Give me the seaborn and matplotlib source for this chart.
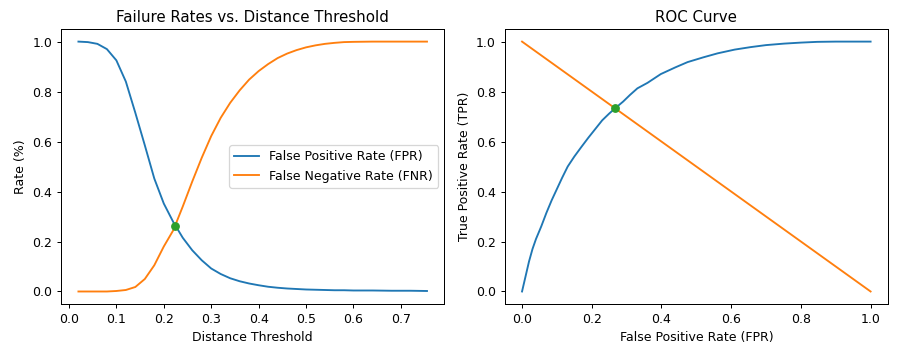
import numpy as np
import pandas as pd
import seaborn as sns
import matplotlib
matplotlib.use('Agg')
import matplotlib.pyplot as plt

# distance thresholds and the two failure rates
thresholds = [0.02, 0.04, 0.06, 0.08, 0.10, 0.12, 0.14, 0.16, 0.18, 0.20, 0.22,
              0.24, 0.26, 0.28, 0.30, 0.32, 0.34, 0.36, 0.38, 0.40, 0.42, 0.44,
              0.46, 0.48, 0.50, 0.52, 0.54, 0.56, 0.58, 0.60, 0.64, 0.68, 0.72,
              0.755]
fpr = [1.000, 0.998, 0.991, 0.970, 0.925, 0.840, 0.715, 0.585, 0.452, 0.352, 0.278,
       0.215, 0.165, 0.125, 0.092, 0.070, 0.053, 0.041, 0.032, 0.025, 0.019, 0.015,
       0.012, 0.010, 0.008, 0.007, 0.006, 0.005, 0.005, 0.004, 0.004, 0.003, 0.003,
       0.002]
fnr = [0.000, 0.000, 0.000, 0.000, 0.002, 0.006, 0.018, 0.050, 0.105, 0.180, 0.245,
       0.340, 0.440, 0.535, 0.622, 0.695, 0.755, 0.805, 0.848, 0.882, 0.910, 0.934,
       0.952, 0.966, 0.977, 0.985, 0.991, 0.995, 0.998, 0.999, 1.000, 1.000, 1.000,
       1.000]
eer_threshold = 0.224
eer_rate = 0.263

# ROC curve
roc_fpr = [0.0, 0.01, 0.02, 0.03, 0.04, 0.055, 0.07, 0.085, 0.10, 0.115, 0.131,
           0.15, 0.17, 0.19, 0.21, 0.23, 0.25, 0.267, 0.29, 0.31, 0.331, 0.36,
           0.398, 0.44, 0.475, 0.52, 0.561, 0.61, 0.656, 0.70, 0.752, 0.80,
           0.847, 0.90, 1.0]
roc_tpr = [0.0, 0.06, 0.12, 0.17, 0.21, 0.26, 0.315, 0.365, 0.41, 0.455, 0.50,
           0.54, 0.578, 0.615, 0.65, 0.685, 0.712, 0.733, 0.76, 0.787, 0.813, 0.835,
           0.87, 0.897, 0.918, 0.937, 0.953, 0.968, 0.978, 0.986, 0.992, 0.996,
           0.999, 1.0, 1.0]
diag_x = [0.0, 1.0]
diag_y = [1.0, 0.0]
eer_point = (0.267, 0.733)

rates = pd.DataFrame({'threshold': thresholds, 'fpr': fpr, 'fnr': fnr})
roc = pd.DataFrame({'fpr': roc_fpr, 'tpr': roc_tpr})

fig, (ax1, ax2) = plt.subplots(1, 2, figsize=(901/90, 355/90), dpi=90)
plt.subplots_adjust(left=0.0677, right=0.9856, top=0.918, bottom=0.1437, wspace=0.157)

sns.lineplot(data=rates, x='threshold', y='fpr', ax=ax1, color='C0',
             label='False Positive Rate (FPR)')
sns.lineplot(data=rates, x='threshold', y='fnr', ax=ax1, color='C1',
             label='False Negative Rate (FNR)')
ax1.plot([eer_threshold], [eer_rate], 'o', color='C2', markersize=6)
ax1.set_title('Failure Rates vs. Distance Threshold')
ax1.set_xlabel('Distance Threshold')
ax1.set_ylabel('Rate (%)')
ax1.legend(loc='center right')

sns.lineplot(data=roc, x='fpr', y='tpr', ax=ax2, color='C0')
sns.lineplot(x=diag_x, y=diag_y, ax=ax2, color='C1')
ax2.plot([eer_point[0]], [eer_point[1]], 'o', color='C2', markersize=6)
ax2.set_title('ROC Curve')
ax2.set_xlabel('False Positive Rate (FPR)')
ax2.set_ylabel('True Positive Rate (TPR)')

plt.savefig('out.png', dpi=90)
